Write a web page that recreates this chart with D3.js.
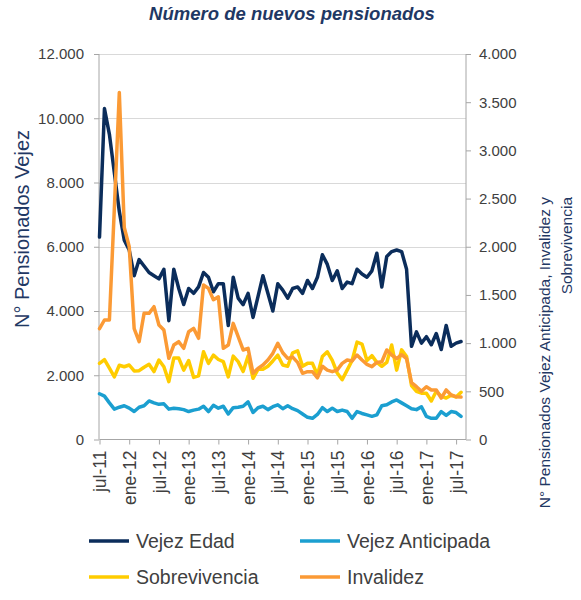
<!DOCTYPE html>
<html>
<head>
<meta charset="utf-8">
<script src="https://cdnjs.cloudflare.com/ajax/libs/d3/7.8.5/d3.min.js"></script>
<style>
  body { margin: 0; background: #fff; }
  svg text { font-family: "Liberation Sans", Arial, sans-serif; }
</style>
</head>
<body>
<div id="chart"></div>
<script>
// monthly series, jul-11 .. ago-17
var vejezEdad = [6300,10300,9500,8300,7100,6200,5900,5100,5600,5400,
  5200,5100,5000,5300,3700,5300,4700,4200,4700,4550,
  4750,5200,5050,4600,4850,4850,3550,5050,4400,4200,
  4550,3800,4450,5100,4550,4000,4850,4650,4400,4700,
  4750,4550,4950,4700,5050,5750,5450,4950,5250,4700,
  4900,4850,5300,5150,5050,5250,5800,4750,5700,5850,
  5900,5850,5300,2900,3350,3000,3200,2950,3300,2800,
  3550,2900,3000,3050];

var vejezAnticipada = [475,450,380,315,335,350,325,290,335,350,
  400,380,365,370,315,325,320,310,290,305,
  315,345,290,355,325,345,265,330,335,345,
  390,280,330,345,310,340,360,320,350,320,
  300,265,230,220,260,330,290,325,290,305,
  290,220,290,270,255,240,255,350,360,390,
  410,380,350,320,310,340,240,220,220,290,
  250,290,280,240];

var sobrevivencia = [790,830,740,650,770,755,773,711,714,750,
  780,705,825,755,600,845,845,720,820,645,
  660,910,790,875,830,808,650,865,808,705,
  865,635,728,728,760,815,875,773,760,900,
  920,760,790,790,670,860,910,820,690,620,
  720,820,1010,990,820,870,800,760,800,980,
  720,930,860,560,500,480,480,400,500,450,
  430,460,440,490];

var invalidez = [1150,1240,1240,2400,3600,2200,2000,1150,1015,1309,
  1309,1378,1188,1136,842,980,1015,946,1118,1153,
  1050,1603,1568,1450,1480,946,980,1205,1067,929,
  946,687,738,773,825,894,998,900,842,855,
  800,687,704,704,640,760,720,704,721,790,
  825,815,877,825,780,756,800,807,929,877,
  840,880,840,590,548,500,548,514,514,430,
  514,462,444,440];

var tickLabels = ["jul-11","ene-12","jul-12","ene-13","jul-13","ene-14","jul-14",
  "ene-15","jul-15","ene-16","jul-16","ene-17","jul-17"];

var leftTicks = [0,2000,4000,6000,8000,10000,12000];
var rightTicks = [0,500,1000,1500,2000,2500,3000,3500,4000];

var series = [
  {name: "Vejez Edad", values: vejezEdad, axis: "left", color: "#0b2d5b"},
  {name: "Vejez Anticipada", values: vejezAnticipada, axis: "right", color: "#1b9fd0"},
  {name: "Sobrevivencia", values: sobrevivencia, axis: "right", color: "#ffcc00"},
  {name: "Invalidez", values: invalidez, axis: "right", color: "#fb9a35"}
];

var width = 581, height = 600;
var navy = "#1f3864", axisGrey = "#a6a6a6", textGrey = "#404040";

var svg = d3.select("#chart").append("svg")
    .attr("width", width)
    .attr("height", height);

var x = d3.scaleLinear().domain([0, 74]).range([99.5, 466]);
var yL = d3.scaleLinear().domain([0, 12000]).range([439.5, 54]);
var yR = d3.scaleLinear().domain([0, 4000]).range([439.5, 54]);

// title
svg.append("text")
    .attr("x", 292).attr("y", 20)
    .attr("text-anchor", "middle")
    .style("font-size", "18.5px")
    .style("font-weight", "bold")
    .style("font-style", "italic")
    .style("fill", navy)
    .text("Número de nuevos pensionados");

// gridlines
svg.append("g").selectAll("line")
    .data(leftTicks.slice(1))
  .enter().append("line")
    .attr("x1", x.range()[0] - 0.5).attr("x2", x.range()[1])
    .attr("y1", function(d){ return Math.round(yL(d)) + 0.5; })
    .attr("y2", function(d){ return Math.round(yL(d)) + 0.5; })
    .style("stroke", "#d9d9d9")
    .style("stroke-width", 1);

// left axis
var leftAxis = svg.append("g")
    .attr("transform", "translate(99,0)")
    .call(d3.axisLeft(yL).tickValues(leftTicks).tickSize(5).tickPadding(10)
      .tickFormat(function(d){ return d3.format(",")(d).replace(/,/g, "."); }));

// right axis
var rightAxis = svg.append("g")
    .attr("transform", "translate(466,0)")
    .call(d3.axisRight(yR).tickValues(rightTicks).tickSize(5).tickPadding(8)
      .tickFormat(function(d){ return d3.format(",")(d).replace(/,/g, "."); }));

// bottom axis
var bottomAxis = svg.append("g")
    .attr("transform", "translate(0,439.5)")
    .call(d3.axisBottom(x).tickValues(d3.range(0, 73, 6)).tickSize(5)
      .tickFormat(function(d, i){ return tickLabels[i]; }));

[leftAxis, rightAxis, bottomAxis].forEach(function(a){
  a.select(".domain").style("stroke", axisGrey);
  a.selectAll(".tick line").style("stroke", axisGrey);
  a.selectAll("text").style("font-size", "15px").style("fill", textGrey)
    .style("font-family", "'Liberation Sans', Arial, sans-serif");
});
leftAxis.select(".domain").attr("d", "M0,54V439.5");
rightAxis.select(".domain").attr("d", "M0,54V439.5");
bottomAxis.select(".domain").attr("d", "M99.5,0H466");

bottomAxis.selectAll("text")
    .attr("transform", "rotate(-90)")
    .attr("x", -11).attr("y", 0).attr("dy", "0.35em")
    .style("text-anchor", "end")
    .style("font-size", "17.5px");

// axis titles
svg.append("text")
    .attr("transform", "translate(29,229) rotate(-90)")
    .attr("text-anchor", "middle")
    .style("font-size", "20px")
    .style("fill", navy)
    .text("N° Pensionados Vejez");

// right title, wrapped in two lines that both start at the top
var rTitle = svg.append("text")
    .attr("transform", "translate(550,197) rotate(-90)")
    .attr("text-anchor", "end")
    .style("font-size", "15.5px")
    .style("fill", navy);
rTitle.append("tspan").attr("x", 0).attr("dy", 0)
    .text("N° Pensionados Vejez Anticipada, Invalidez y");
rTitle.append("tspan").attr("x", 0).attr("dy", "1.4em")
    .text("Sobrevivencia");

// lines
var plot = svg.append("g");
series.forEach(function(s){
  var yScale = s.axis == "left" ? yL : yR;
  var line = d3.line()
      .x(function(d, i){ return x(i); })
      .y(function(d){ return yScale(d); });
  plot.append("path")
      .datum(s.values)
      .attr("class", "series")
      .attr("d", line)
      .style("fill", "none")
      .style("stroke", s.color)
      .style("stroke-width", 3.5)
      .style("stroke-linejoin", "round")
      .style("stroke-linecap", "round");
});

// legend
var legendPos = [[89, 541], [300, 541], [89, 577], [300, 577]];
var legend = svg.append("g").selectAll("g")
    .data(series)
  .enter().append("g")
    .attr("transform", function(d, i){ return "translate(" + legendPos[i][0] + "," + legendPos[i][1] + ")"; });

legend.append("line")
    .attr("x1", 0).attr("x2", 40)
    .style("stroke", function(d){ return d.color; })
    .style("stroke-width", 3.5);

legend.append("text")
    .attr("x", 47).attr("dy", "0.35em")
    .style("font-size", "19.5px")
    .style("fill", textGrey)
    .text(function(d){ return d.name; });
</script>
</body>
</html>
